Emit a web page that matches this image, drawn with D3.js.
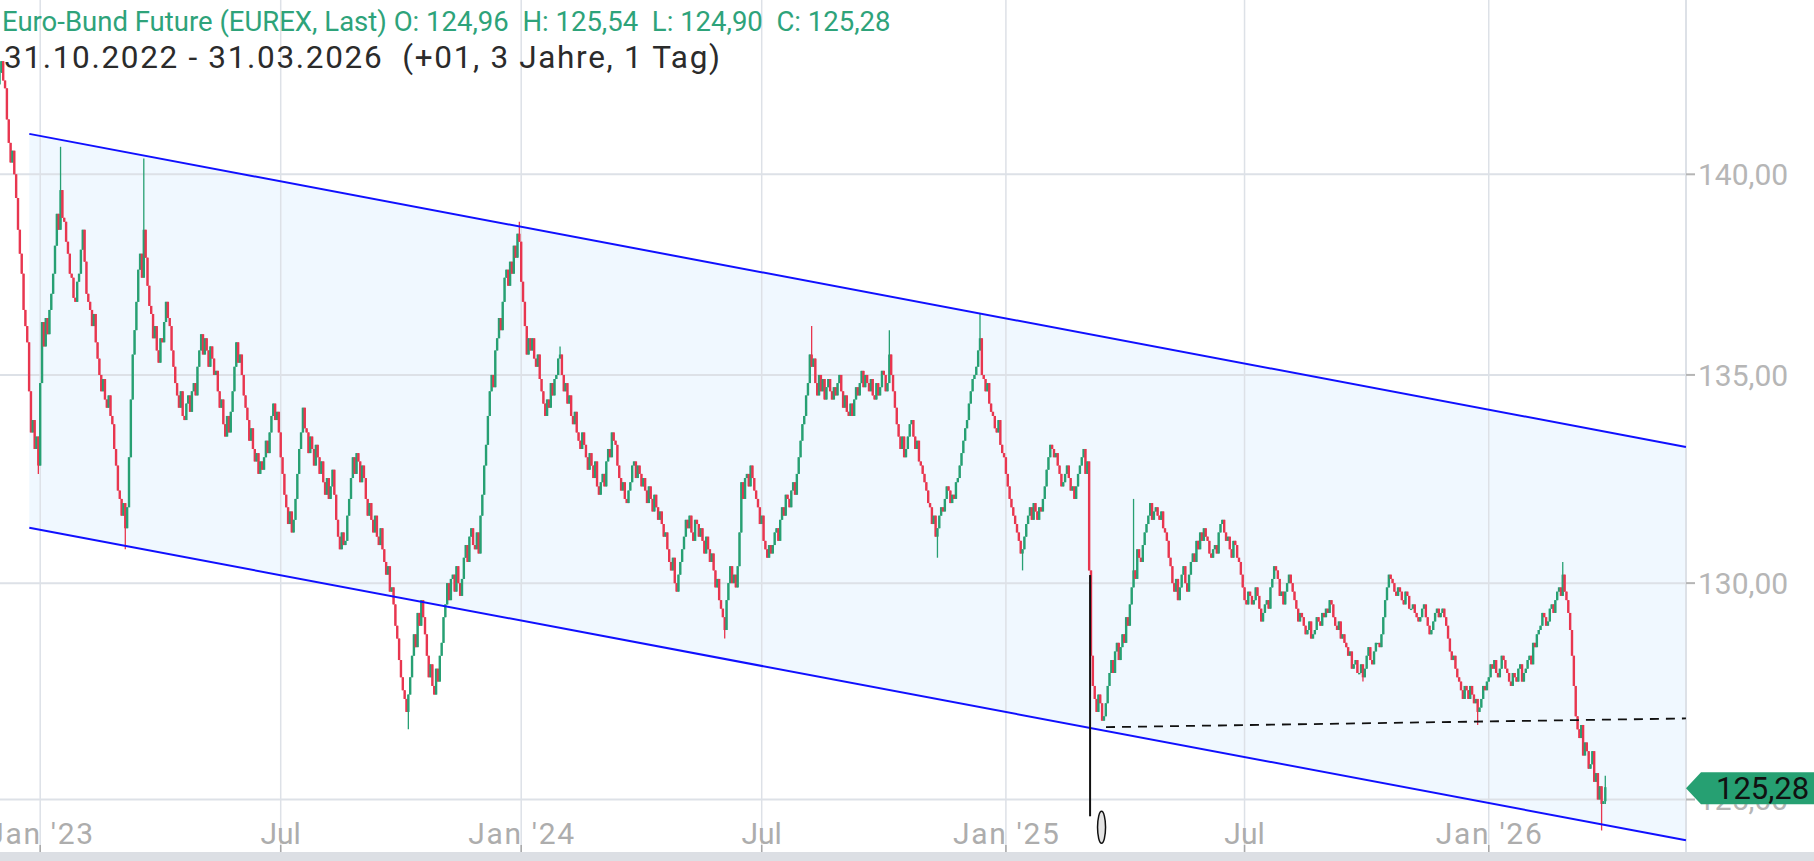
<!DOCTYPE html>
<html>
<head>
<meta charset="utf-8">
<script src="https://cdn.jsdelivr.net/npm/d3@7"></script>
<style>
  body { margin: 0; background: #fff; overflow: hidden; }
  text { font-family: Roboto, "Noto Sans", sans-serif; }
</style>
</head>
<body>
<svg width="1814" height="861"></svg>
<script>
var svg = d3.select('svg');

// Daily closes (first visible candle is 01.12.2022, last is 31.03.2026)
var closes = [
  142.6,142.9,142.4,142.2,141.4,140.8,140.3,140.6,140.0,139.4,
  138.6,138.0,137.5,136.6,136.2,135.8,134.6,133.6,133.9,133.2,
  133.5,132.8,134.8,136.3,135.7,136.4,136.0,136.6,137.0,137.5,
  138.2,139.0,138.6,139.6,138.9,138.8,138.3,138.0,137.5,137.4,
  136.9,136.8,137.3,137.5,138.1,138.6,137.8,137.0,136.8,136.6,
  136.2,136.5,135.8,135.4,135.0,134.6,134.9,134.4,134.2,134.5,
  134.0,133.8,133.2,132.8,132.2,132.0,131.6,131.9,131.3,131.8,
  133.0,134.4,135.5,136.1,136.8,137.6,138.0,137.4,138.6,137.9,
  137.2,136.7,136.5,135.9,136.2,135.6,135.3,135.9,135.8,136.3,
  136.8,136.4,136.2,135.6,135.2,134.8,134.5,134.2,134.6,134.0,
  133.9,134.3,134.5,134.1,134.6,134.8,134.5,135.2,135.6,136.0,
  135.5,135.9,135.6,135.2,135.7,135.4,135.0,135.1,134.6,134.2,
  134.4,133.8,133.5,134.0,133.6,134.1,134.6,135.2,135.8,135.3,
  135.5,135.0,134.5,134.2,133.9,133.4,133.7,133.2,132.9,133.1,
  132.6,132.9,132.7,133.0,133.4,133.1,133.6,134.0,134.3,133.9,
  134.1,133.6,133.0,132.6,132.1,131.8,131.4,131.7,131.2,131.5,
  132.0,132.6,133.2,133.6,134.2,133.7,133.6,133.1,133.5,133.2,
  132.8,133.3,133.0,132.6,132.9,132.4,132.1,132.5,132.0,132.3,
  132.7,132.1,131.5,131.1,130.8,131.2,130.9,131.0,131.6,132.0,
  132.5,133.0,132.6,133.1,132.9,132.4,132.8,132.5,132.0,131.6,
  131.9,131.5,131.2,131.6,131.1,130.9,131.3,130.8,130.5,130.2,
  130.4,129.8,129.9,129.5,129.0,128.7,128.2,127.8,127.5,127.3,
  127.0,127.4,127.8,128.3,128.8,128.5,129.3,129.0,129.6,129.2,
  128.8,128.3,127.8,128.1,127.6,127.4,128.0,127.7,128.3,128.6,
  129.2,129.5,130.0,129.6,130.1,130.2,129.8,130.4,130.0,129.7,
  130.1,130.6,130.9,130.5,131.1,131.3,130.9,130.8,131.2,130.7,
  131.6,132.1,132.8,133.3,134.0,134.6,135.0,134.7,135.6,135.9,
  136.4,136.1,136.8,137.4,137.6,137.2,137.8,137.5,138.2,137.9,
  138.5,138.3,137.3,136.8,136.2,135.5,135.9,135.6,135.9,135.4,
  135.2,135.5,134.9,134.6,134.3,134.0,134.4,134.2,134.8,134.5,
  134.9,135.0,135.4,135.5,135.0,134.6,134.8,134.3,134.5,134.0,
  133.8,134.1,133.6,133.4,133.2,133.6,133.3,133.0,132.7,133.1,
  132.8,132.5,132.9,132.3,132.1,132.4,132.6,132.3,132.9,133.2,
  133.0,133.6,133.4,133.3,132.8,132.5,132.2,132.4,132.0,131.9,
  132.2,132.4,132.8,132.9,132.5,132.8,132.6,132.3,132.5,132.2,
  131.9,132.3,132.0,131.7,132.1,131.8,131.5,131.7,131.4,131.1,
  131.2,130.8,130.5,130.3,130.6,130.0,129.8,130.2,130.5,130.8,
  131.1,131.5,131.3,131.6,131.2,131.0,131.5,131.4,131.1,131.3,
  131.0,130.7,131.1,130.8,130.5,130.7,130.3,129.9,130.1,129.6,
  129.4,129.2,128.9,129.6,130.0,130.4,130.0,130.2,129.9,130.4,
  131.2,132.4,132.0,132.5,132.6,132.3,132.8,132.5,132.2,132.0,
  131.8,131.4,131.6,131.0,130.8,130.6,130.9,130.7,130.9,131.2,
  131.3,131.0,131.5,131.8,131.6,132.1,132.0,131.8,132.2,132.4,
  132.1,132.6,133.0,133.4,133.8,134.0,134.5,134.8,135.5,135.2,
  135.4,134.8,134.5,135.0,134.6,134.9,134.4,134.7,134.9,134.6,
  134.4,134.7,134.5,134.8,135.0,134.6,134.2,134.5,134.1,134.0,
  134.3,134.0,134.4,134.7,134.5,134.8,135.1,134.7,135.0,134.8,
  134.6,134.9,134.5,134.4,134.8,134.5,134.7,135.1,135.0,134.6,
  134.8,135.5,135.0,134.6,134.2,133.8,133.5,133.2,133.5,133.0,
  133.2,133.5,133.8,133.9,133.5,133.2,133.4,132.9,132.8,132.6,
  132.4,132.2,131.9,131.8,131.4,131.6,131.1,131.3,131.6,131.8,
  131.7,132.0,132.3,132.2,131.9,132.1,132.0,132.4,132.5,132.8,
  133.1,133.4,133.7,133.9,134.3,134.6,134.9,135.0,135.2,135.6,
  135.9,135.0,134.9,134.6,134.8,134.3,134.1,134.0,133.7,133.6,
  133.9,133.3,133.1,133.0,132.6,132.3,132.0,131.8,131.6,131.4,
  131.2,131.0,130.7,130.8,131.1,131.4,131.6,131.8,131.5,131.9,
  131.7,131.5,131.8,131.7,132.0,132.3,132.7,133.0,133.3,133.2,
  133.0,133.1,132.8,132.6,132.3,132.4,132.6,132.8,132.5,132.2,
  132.3,132.0,132.3,132.6,132.8,133.0,133.2,132.6,132.9,130.3,
  128.3,127.6,127.3,127.0,127.4,127.2,126.8,126.9,127.2,127.6,
  127.9,128.2,127.9,128.4,128.6,128.2,128.5,128.8,128.6,129.2,
  129.0,129.5,129.9,130.3,130.1,130.8,130.6,130.5,130.9,131.2,
  131.4,131.6,131.9,131.5,131.7,131.8,131.6,131.5,131.7,131.3,
  131.2,131.0,130.6,130.4,130.0,129.8,130.1,129.6,129.9,130.2,
  130.4,130.0,129.8,130.2,130.5,130.7,130.5,131.0,130.8,131.2,
  131.0,131.3,131.1,131.0,130.7,130.6,130.8,130.9,130.7,131.2,
  131.4,131.5,131.2,131.0,131.1,130.8,130.6,131.0,130.9,130.6,
  130.5,130.2,129.9,129.6,129.5,129.8,129.7,129.5,129.6,129.9,
  129.7,129.4,129.1,129.3,129.5,129.6,129.4,129.9,130.1,130.4,
  130.3,130.1,129.7,129.8,129.5,129.8,130.0,130.2,130.0,129.8,
  129.6,129.4,129.1,129.3,129.2,129.0,128.8,128.9,129.1,128.7,
  128.8,128.9,129.2,129.1,129.0,129.3,129.2,129.4,129.3,129.6,
  129.5,129.2,129.0,128.9,129.1,128.7,128.8,128.6,128.5,128.3,
  128.4,128.0,128.1,128.2,127.9,127.9,128.1,127.8,128.0,128.3,
  128.5,128.2,128.1,128.4,128.6,128.6,128.5,128.8,129.2,129.6,
  129.9,130.2,130.1,130.0,129.8,129.7,129.9,129.8,129.6,129.5,
  129.8,129.7,129.4,129.4,129.5,129.3,129.2,129.1,129.2,129.4,
  129.5,129.2,129.0,128.8,128.9,129.1,129.3,129.4,129.2,129.3,
  129.4,129.2,129.0,128.7,128.4,128.2,128.3,128.0,127.8,127.7,
  127.5,127.3,127.6,127.5,127.3,127.6,127.4,127.2,127.3,127.0,
  127.1,127.3,127.6,127.5,127.7,127.8,128.1,128.0,128.2,127.9,
  127.8,128.0,128.3,128.2,128.0,127.9,127.7,127.6,127.9,127.8,
  127.7,128.0,128.1,127.7,127.9,128.0,128.2,128.3,128.1,128.6,
  128.5,128.8,128.9,129.0,129.3,129.2,129.0,129.1,129.4,129.5,
  129.3,129.6,129.8,129.9,129.7,130.2,129.8,129.6,129.3,128.9,
  128.3,127.6,126.9,126.6,126.4,126.7,126.0,126.3,126.1,125.7,
  125.8,126.1,125.4,125.6,125.0,125.3,124.9,124.96,125.28
];
var firstOpen = 142.3;
var lastOpen = 124.96;

// Wicks that stick out clearly beyond the bodies: [candle index, price]
var highSpikes = [[33,140.7],[78,140.4],[281,138.8],[303,135.7],[439,136.2],[481,136.1],[530,136.5],[613,132.0],[845,130.5],[868,125.54]];
var lowSpikes = [[21,132.6],[68,130.8],[221,126.6],[392,128.7],[507,130.6],[553,130.3],[737,127.7],[799,126.7],[866,124.3],[868,124.90]];

var startDate = new Date(2022, 11, 1);
var tickDates = [new Date(2023,0,1), new Date(2023,6,1), new Date(2024,0,1), new Date(2024,6,1), new Date(2025,0,1), new Date(2025,6,1), new Date(2026,0,1)];
var tickLabels = ["Jan '23", "Jul", "Jan '24", "Jul", "Jan '25", "Jul", "Jan '26"];
var priceTicks = [125, 130, 135, 140];

// Drawn annotations: [candle index, price]
var channelUpper = [[16.1, 141.03], [911.6, 133.25]];
var channelLower = [[16.1, 131.31], [911.6, 124.08]];
var supportLine = [[598.1, 126.65], [911.6, 126.85]];
var markerLine = [[589.5, 130.19], [589.5, 124.62]];
var markerOval = [595.7, 124.37];
var lastPrice = 125.28;

var headerQuote = "Euro-Bund Future (EUREX, Last) O: 124,96  H: 125,54  L: 124,90  C: 125,28";
var headerRange = "31.10.2022 - 31.03.2026  (+01, 3 Jahre, 1 Tag)";

var upColor = "#27a073", downColor = "#e8364f";
var gridColor = "#dde1e7";
var plotRight = 1686, bandTop = 852;

// Trading days (weekdays) for each candle
var dates = [];
var d = new Date(startDate);
while (dates.length < closes.length) {
  if (d.getDay() !== 0 && d.getDay() !== 6) dates.push(new Date(d));
  d.setDate(d.getDate() + 1);
}

var x = d3.scaleLinear().domain([0, closes.length - 1]).range([-0.5, -0.5 + 1.85 * (closes.length - 1)]);
var y = d3.scaleLog().domain([140, 125]).range([174.3, 799.5]);
var fmt = function(v) { return v.toFixed(2).replace('.', ','); };

// Build candles (open = previous close)
var candles = closes.map(function(c, i) {
  var o = i === 0 ? firstOpen : closes[i - 1];
  return { i: i, o: o, c: c };
});
candles[candles.length - 1].o = lastOpen;
candles.forEach(function(c) { c.h = Math.max(c.o, c.c); c.l = Math.min(c.o, c.c); });
highSpikes.forEach(function(s) { candles[s[0]].h = Math.max(candles[s[0]].h, s[1]); });
lowSpikes.forEach(function(s) { candles[s[0]].l = Math.min(candles[s[0]].l, s[1]); });

// Channel fill
var pt = function(p) { return [x(p[0]), y(p[1])]; };
svg.append("polygon")
  .attr("points", [pt(channelUpper[0]), pt(channelUpper[1]), pt(channelLower[1]), pt(channelLower[0])].map(function(p) { return p.join(","); }).join(" "))
  .attr("fill", "#f0f8ff");

// Gridlines
var tickIdx = tickDates.map(function(t) { return dates.findIndex(function(dd) { return dd >= t; }); });
svg.selectAll(".vgrid").data(tickIdx).enter().append("line")
  .attr("x1", function(i) { return x(i); }).attr("x2", function(i) { return x(i); })
  .attr("y1", 0).attr("y2", bandTop)
  .attr("stroke", gridColor).attr("stroke-width", 1.5);
svg.selectAll(".hgrid").data(priceTicks).enter().append("line")
  .attr("x1", 0).attr("x2", plotRight)
  .attr("y1", function(p) { return y(p); }).attr("y2", function(p) { return y(p); })
  .attr("stroke", gridColor).attr("stroke-width", 2);
svg.append("line").attr("x1", plotRight).attr("x2", plotRight).attr("y1", 0).attr("y2", bandTop)
  .attr("stroke", gridColor).attr("stroke-width", 2);

// Candles
var cg = svg.append("g");
cg.selectAll(".wick").data(candles).enter().append("line")
  .attr("x1", function(c) { return x(c.i); }).attr("x2", function(c) { return x(c.i); })
  .attr("y1", function(c) { return y(c.h); }).attr("y2", function(c) { return y(c.l); })
  .attr("stroke", function(c) { return c.c >= c.o ? upColor : downColor; })
  .attr("stroke-width", 1.3);
cg.selectAll(".body").data(candles).enter().append("rect")
  .attr("x", function(c) { return x(c.i) - 1.2; })
  .attr("width", 2.4)
  .attr("y", function(c) { return y(Math.max(c.o, c.c)); })
  .attr("height", function(c) { return Math.max(1.4, Math.abs(y(c.o) - y(c.c))); })
  .attr("fill", function(c) { return c.c >= c.o ? upColor : downColor; });

// Channel lines
[channelUpper, channelLower].forEach(function(l) {
  svg.append("line")
    .attr("x1", x(l[0][0])).attr("y1", y(l[0][1]))
    .attr("x2", x(l[1][0])).attr("y2", y(l[1][1]))
    .attr("stroke", "#1010ff").attr("stroke-width", 2);
});
svg.append("line")
  .attr("x1", x(supportLine[0][0])).attr("y1", y(supportLine[0][1]))
  .attr("x2", x(supportLine[1][0])).attr("y2", y(supportLine[1][1]))
  .attr("stroke", "#111").attr("stroke-width", 1.8).attr("stroke-dasharray", "9,7");
svg.append("line")
  .attr("x1", x(markerLine[0][0])).attr("y1", y(markerLine[0][1]))
  .attr("x2", x(markerLine[1][0])).attr("y2", y(markerLine[1][1]))
  .attr("stroke", "#111").attr("stroke-width", 2);
svg.append("ellipse")
  .attr("cx", x(markerOval[0])).attr("cy", y(markerOval[1]))
  .attr("rx", 4).attr("ry", 16)
  .attr("fill", "#e4e4e4").attr("stroke", "#111").attr("stroke-width", 1.5);

// Price axis
svg.selectAll(".ytick").data(priceTicks).enter().append("line")
  .attr("x1", plotRight).attr("x2", plotRight + 9)
  .attr("y1", function(p) { return y(p); }).attr("y2", function(p) { return y(p); })
  .attr("stroke", "#b5b5b5").attr("stroke-width", 2);
svg.selectAll(".ylabel").data(priceTicks).enter().append("text")
  .attr("x", 1698).attr("y", function(p) { return y(p); }).attr("dy", "0.36em")
  .attr("font-size", 30).attr("fill", "#b6b6b6")
  .text(function(p) { return fmt(p); });

// Last price tag
var ty = y(lastPrice) + 1;
svg.append("path")
  .attr("d", "M" + plotRight + "," + ty + " L" + (plotRight + 15) + "," + (ty - 16) + " L1814," + (ty - 16) + " L1814," + (ty + 16) + " L" + (plotRight + 15) + "," + (ty + 16) + " Z")
  .attr("fill", "#26a072");
svg.append("text")
  .attr("x", 1716).attr("y", ty).attr("dy", "0.36em")
  .attr("font-size", 31).attr("fill", "#111")
  .text(fmt(lastPrice));

// Time axis
svg.append("rect").attr("x", 0).attr("y", bandTop).attr("width", 1814).attr("height", 861 - bandTop).attr("fill", "#dcdfe4");
svg.selectAll(".xtick").data(tickIdx).enter().append("line")
  .attr("x1", function(i) { return x(i); }).attr("x2", function(i) { return x(i); })
  .attr("y1", bandTop - 7).attr("y2", bandTop)
  .attr("stroke", "#a8a8a8").attr("stroke-width", 1.5);
svg.selectAll(".xlabel").data(tickIdx).enter().append("text")
  .attr("x", function(i) { return x(i); }).attr("y", 844)
  .attr("text-anchor", "middle")
  .attr("font-size", 30).attr("fill", "#adadad")
  .each(function(i, k) {
    var t = d3.select(this).text(tickLabels[k]);
    if (tickLabels[k].length > 3) t.attr("textLength", 106).attr("lengthAdjust", "spacing");
  });

// Header
svg.append("text").attr("x", 2).attr("y", 31)
  .attr("font-size", 27.5).attr("fill", "#2ea37a")
  .style("white-space", "pre")
  .text(headerQuote);
svg.append("text").attr("x", 4).attr("y", 68)
  .attr("font-size", 31.5).attr("fill", "#2b2b2b")
  .style("white-space", "pre")
  .attr("textLength", 716).attr("lengthAdjust", "spacing")
  .text(headerRange);
</script>
</body>
</html>
